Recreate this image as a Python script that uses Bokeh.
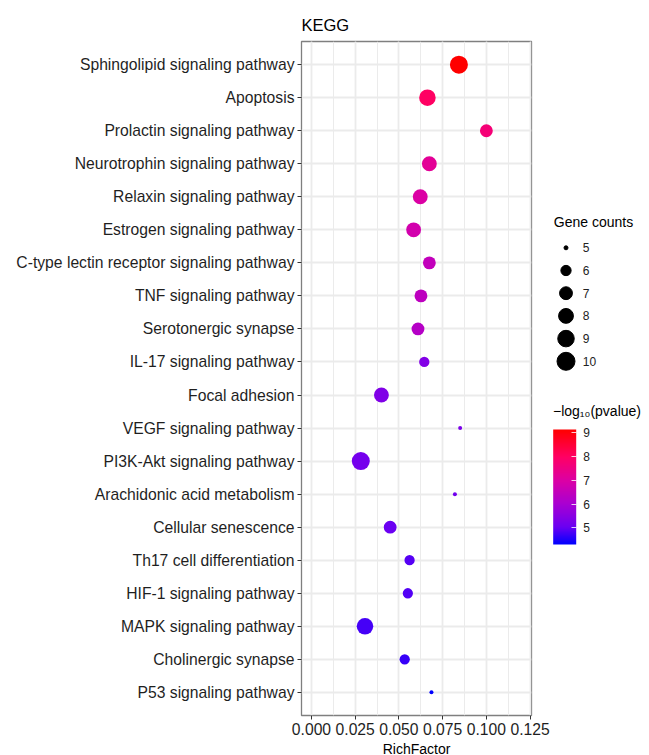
import numpy as np
from bokeh.plotting import figure
from bokeh.models import (ColumnDataSource, FactorRange, Range1d, LinearColorMapper,
                          ColorBar, FixedTicker, SingleIntervalTicker, PrintfTickFormatter)
from bokeh.layouts import row
from bokeh.embed import file_html
from bokeh.resources import INLINE
from bokeh.core.properties import value

# ---------------- data ----------------
pathways = [
    "Sphingolipid signaling pathway",
    "Apoptosis",
    "Prolactin signaling pathway",
    "Neurotrophin signaling pathway",
    "Relaxin signaling pathway",
    "Estrogen signaling pathway",
    "C-type lectin receptor signaling pathway",
    "TNF signaling pathway",
    "Serotonergic synapse",
    "IL-17 signaling pathway",
    "Focal adhesion",
    "VEGF signaling pathway",
    "PI3K-Akt signaling pathway",
    "Arachidonic acid metabolism",
    "Cellular senescence",
    "Th17 cell differentiation",
    "HIF-1 signaling pathway",
    "MAPK signaling pathway",
    "Cholinergic synapse",
    "P53 signaling pathway",
]
rich_factor = [0.0843, 0.0663, 0.1000, 0.0674, 0.0622, 0.0584, 0.0674, 0.0626, 0.0609, 0.0645,
               0.0400, 0.0850, 0.0282, 0.0820, 0.0450, 0.0561, 0.0551, 0.0306, 0.0533, 0.0686]
gene_counts = [10, 9, 7, 8, 8, 8, 7, 7, 7, 6, 8, 5, 10, 5, 7, 6, 6, 9, 6, 5]
neg_log10_p = [9.14, 8.00, 7.70, 7.20, 7.00, 6.80, 6.50, 6.40, 6.25, 5.40,
               5.36, 5.30, 5.20, 5.15, 5.05, 4.90, 4.87, 4.78, 4.68, 4.30]
legend_counts = [5, 6, 7, 8, 9, 10]
colorbar_ticks = [5, 6, 7, 8, 9]
x_ticks_interval = 0.025

FONT = "Liberation Sans"

# ---------------- colour scale (blue -> purple -> magenta -> red) ----------------
grad_stops = [0.0, 0.15, 0.35, 0.55, 0.76, 1.0]
grad_cols = ["#0000ff", "#6a00f2", "#a800d2", "#da00a6", "#ff0064", "#ff0000"]


def _hex_rgb(h):
    return np.array([int(h[i:i + 2], 16) for i in (1, 3, 5)], float)


_rgb = np.array([_hex_rgb(c) for c in grad_cols])
palette = []
for tt in np.linspace(0, 1, 256):
    r = np.interp(tt, grad_stops, _rgb[:, 0])
    g = np.interp(tt, grad_stops, _rgb[:, 1])
    b = np.interp(tt, grad_stops, _rgb[:, 2])
    palette.append("#%02x%02x%02x" % (int(round(r)), int(round(g)), int(round(b))))

mapper = LinearColorMapper(palette=palette, low=min(neg_log10_p), high=max(neg_log10_p))


def size_px(n):
    n = np.asarray(n, float)
    s = 1 + 5 * np.sqrt((n - 5) / 5.0)   # ggplot area scale, range 1..6
    return 1.2 + 2.8 * s


source = ColumnDataSource(dict(pathway=pathways, rich=rich_factor, count=gene_counts,
                               logp=neg_log10_p, size=size_px(gene_counts)))

TOP, FRAME_H, BOTTOM = 41, 674, 40
LEFT, FRAME_W, MAIN_W = 301, 230, 550

# ---------------- main panel ----------------
p = figure(frame_width=FRAME_W, frame_height=FRAME_H,
           x_range=Range1d(-0.0057, 0.1258),
           y_range=FactorRange(factors=list(reversed(pathways)),
                               range_padding=0.2, range_padding_units="absolute"),
           min_border_left=LEFT, min_border_right=MAIN_W - LEFT - FRAME_W,
           min_border_top=TOP, min_border_bottom=BOTTOM,
           toolbar_location=None, output_backend="svg", title="KEGG")

p.scatter(x="rich", y="pathway", size="size", source=source,
          fill_color={"field": "logp", "transform": mapper}, line_color=None)

p.background_fill_color = "white"
p.border_fill_color = "white"
p.outline_line_color = "#7f7f7f"
p.outline_line_width = 1.3

p.title.text_font = FONT
p.title.text_font_size = "16.5px"
p.title.text_font_style = "normal"
p.title.text_color = "black"
p.title.align = "left"
p.title.standoff = 16

p.xaxis.ticker = SingleIntervalTicker(interval=x_ticks_interval, num_minor_ticks=2)
p.xaxis.formatter = PrintfTickFormatter(format="%.3f")
p.xaxis.axis_label = "RichFactor"
p.xaxis.axis_label_text_font = FONT
p.xaxis.axis_label_text_font_size = "14px"
p.xaxis.axis_label_text_font_style = "normal"
p.xaxis.axis_label_text_color = "black"
p.xaxis.axis_label_standoff = 3

for ax in (p.xaxis, p.yaxis):
    ax.axis_line_color = None
    ax.major_tick_in = 0
    ax.major_tick_out = 4
    ax.minor_tick_line_color = None
    ax.major_tick_line_color = "#333333"
    ax.major_tick_line_width = 1
    ax.major_label_text_font = FONT
    ax.major_label_text_font_size = "15.7px"
    ax.major_label_text_color = "#1f1f1f"
    ax.major_label_standoff = 3

p.xgrid.grid_line_color = "#ebebeb"
p.xgrid.grid_line_width = 1.8
p.xgrid.minor_grid_line_color = "#ebebeb"
p.xgrid.minor_grid_line_width = 1.0
p.ygrid.grid_line_color = "#ebebeb"
p.ygrid.grid_line_width = 1.8

# ---------------- legends panel (page-pixel coordinates) ----------------
SIDE_L, SIDE_W = MAIN_W, 99
frame_top_px = TOP
frame_bot_px = TOP + FRAME_H
side = figure(frame_width=SIDE_W, frame_height=FRAME_H,
              x_range=Range1d(SIDE_L, SIDE_L + SIDE_W),
              y_range=Range1d(frame_bot_px, frame_top_px),
              x_axis_type=None, y_axis_type=None,
              min_border_left=0, min_border_right=0, min_border_top=TOP,
              min_border_bottom=BOTTOM,
              toolbar_location=None, output_backend="svg")
side.outline_line_color = None
side.grid.visible = False
side.background_fill_color = "white"
side.border_fill_color = "white"

legend_x = 565.5
legend_y = [247.3 + 22.7 * i for i in range(len(legend_counts))]
side.text(x=[553.3], y=[221.7], text=["Gene counts"], text_font=value(FONT),
          text_font_size="14px", text_baseline="middle", text_align="left", text_color="black")
side.scatter(x=[legend_x] * len(legend_counts), y=legend_y, size=size_px(legend_counts),
             color="black")
side.text(x=[582.3] * len(legend_counts), y=legend_y, text=[str(c) for c in legend_counts],
          text_font=value(FONT), text_font_size="12px", text_baseline="middle",
          text_align="left", text_color="#222222")

side.text(x=[552.5], y=[410.5], text=["\u2212log\u2081\u2080(pvalue)"], text_font=value(FONT),
          text_font_size="14px", text_baseline="middle", text_align="left", text_color="black")

bar_left, bar_bottom = 552.7, 544
cb = ColorBar(color_mapper=mapper, ticker=FixedTicker(ticks=colorbar_ticks),
              width=23, height=115, padding=0,
              location=(bar_left - SIDE_L, frame_bot_px - bar_bottom),
              title=None,
              major_label_text_font=FONT, major_label_text_font_size="12px",
              major_label_text_color="#222222", label_standoff=7,
              major_tick_in=5, major_tick_out=0, major_tick_line_color="white",
              major_tick_line_alpha=0.8, minor_tick_line_color=None,
              bar_line_color=None, border_line_color=None, background_fill_alpha=0)
side.add_layout(cb)

layout = row(p, side, spacing=0)
open("out.html", "w").write(file_html(layout, INLINE))
